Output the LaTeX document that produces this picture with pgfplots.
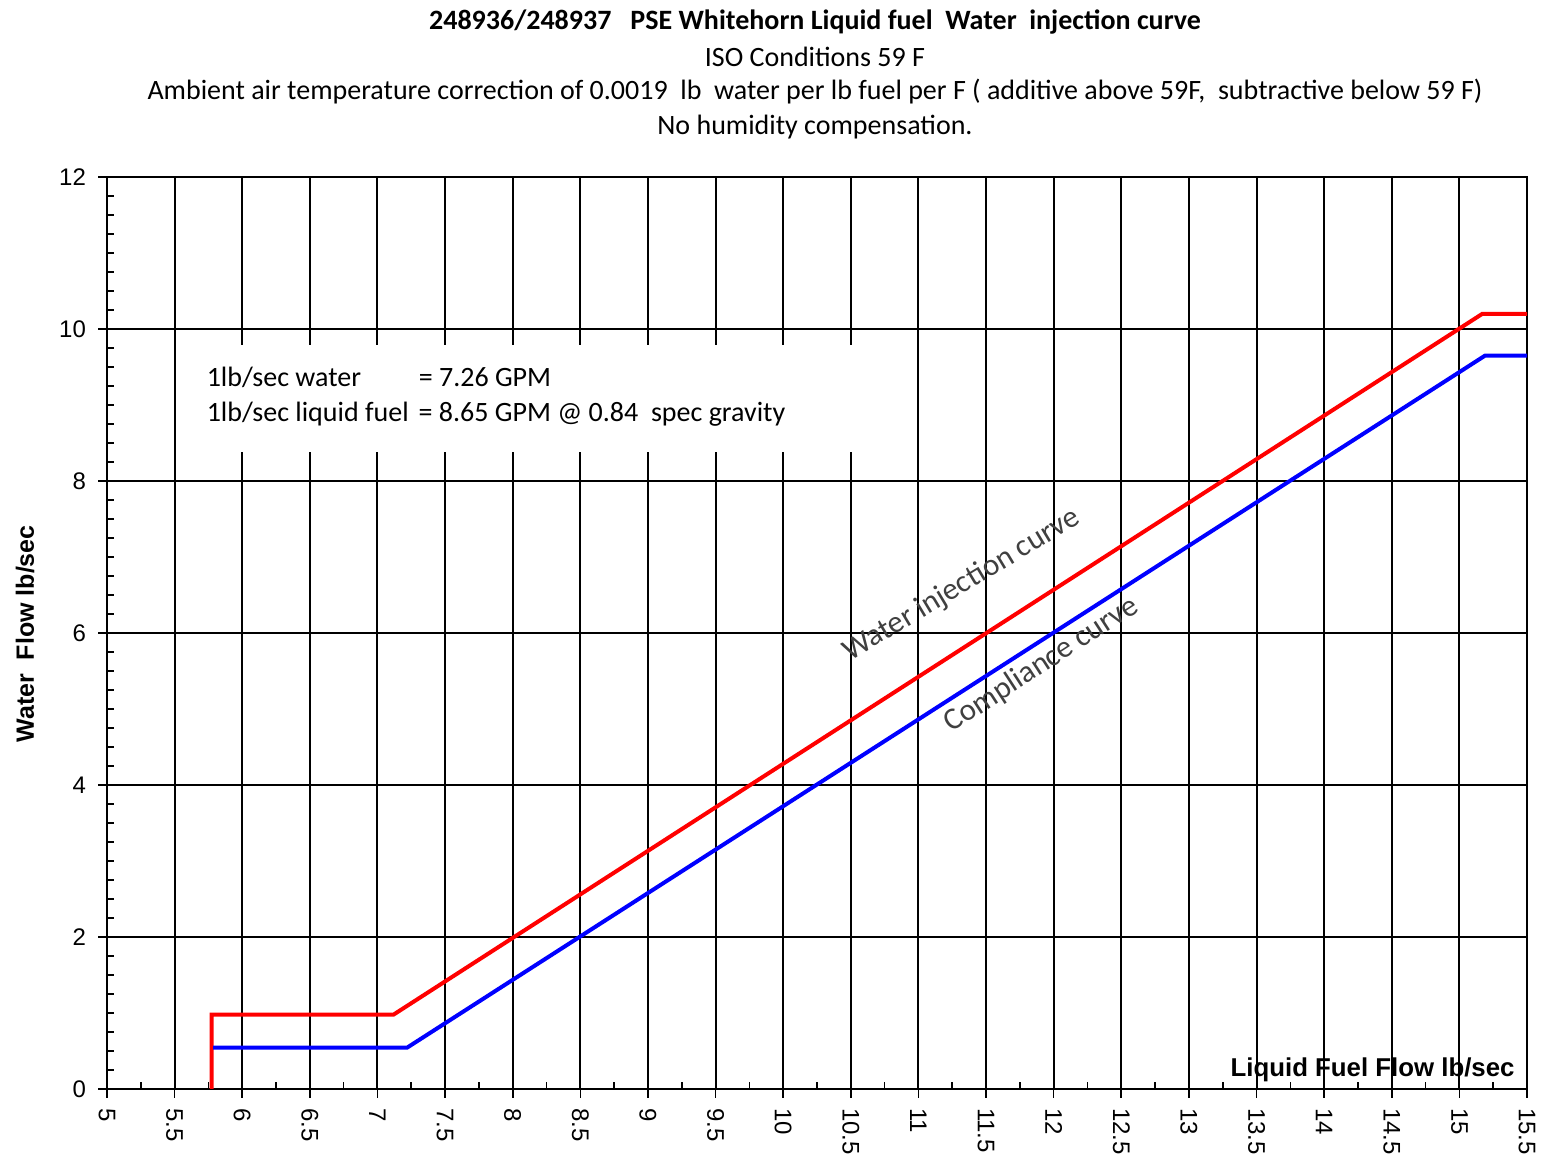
\documentclass[border=0pt]{standalone}
\usepackage{fontspec}
\setmainfont{Carlito}
\newfontfamily\arial{Liberation Sans}
\usepackage{pgfplots}
\pgfplotsset{compat=1.18}
\definecolor{lblgray}{RGB}{64,64,64}
\begin{document}
\begin{tikzpicture}
\begin{axis}[
 scale only axis, width=710pt, height=456pt,
 xmin=5, xmax=15.5, ymin=0, ymax=12,
 xtick distance=0.5, ytick distance=2,
 minor x tick num=1, minor y tick num=7,
 tick pos=left, tick align=outside,
 major tick length=4.5pt, minor tick length=3.5pt,
 minor x tick style={yshift=3.5pt},
 minor y tick style={xshift=3.5pt},
 tick style={black, line width=0.8pt},
 grid=major, major grid style={black, line width=1pt},
 axis line style={black, line width=1pt},
 ticklabel style={font=\arial\fontsize{12}{14}\selectfont},
 /pgf/number format/assume math mode=true,
 x tick label style={rotate=-90, anchor=west, xshift=1.5pt},
 y tick label style={xshift=-2.5pt},
 clip mode=individual,
]
\coordinate (O) at (rel axis cs:0,0);
\fill[white] (axis cs:5.53,8.38) rectangle (axis cs:10.56,9.79);
\node[anchor=west, inner sep=0pt, font=\fontsize{14}{17.5}\selectfont] at (axis cs:5.735,9.11)
 {\begin{tabular}{@{}l@{\hspace{5pt}}l@{}}1lb/sec water & = 7.26 GPM\\ 1lb/sec liquid fuel & = 8.65 GPM @ 0.84\ \ spec gravity\end{tabular}};
\addplot[red, line width=2pt] coordinates {(5.774,0) (5.774,0.98) (7.12,0.98) (15.17,10.2) (15.5,10.2)};
\addplot[blue, line width=2pt] coordinates {(5.785,0.545) (7.22,0.545) (15.19,9.65) (15.5,9.65)};
\node[rotate=31, text=lblgray, font=\fontsize{15.5}{17}\selectfont] at (axis cs:11.32,6.63) {Water injection curve};
\node[rotate=33, text=lblgray, font=\fontsize{15.5}{17}\selectfont] at (axis cs:11.91,5.58) {Compliance curve};
\node[anchor=base east, inner sep=0pt, font=\arial\bfseries\fontsize{12.9}{15}\selectfont] at (axis cs:15.41,0.16) {Liquid Fuel Flow lb/sec};
\node[rotate=90, font=\arial\bfseries\fontsize{12.5}{14}\selectfont] at (rel axis cs:-0.0577,0.499) {Water\ \ Flow lb/sec};
\node[font=\bfseries\fontsize{14}{16}\selectfont] at (rel axis cs:0.4986,1.170) {248936/248937\ \ \ PSE Whitehorn Liquid fuel\ \ Water\ \ injection curve};
\node[font=\fontsize{14}{16}\selectfont] at (rel axis cs:0.4986,1.1316) {ISO Conditions 59 F};
\node[font=\fontsize{14}{16}\selectfont] at (rel axis cs:0.4986,1.0932) {Ambient air temperature correction of 0.0019\ \ lb\ \ water per lb fuel per F ( additive above 59F,\ \ subtractive below 59 F)};
\node[font=\fontsize{14}{16}\selectfont] at (rel axis cs:0.4986,1.0548) {No humidity compensation.};
\end{axis}
\pgfresetboundingbox
\path[use as bounding box] (O) ++(-53.5pt,-33.5pt) rectangle ++(771.5pt,578pt);
\end{tikzpicture}
\end{document}
